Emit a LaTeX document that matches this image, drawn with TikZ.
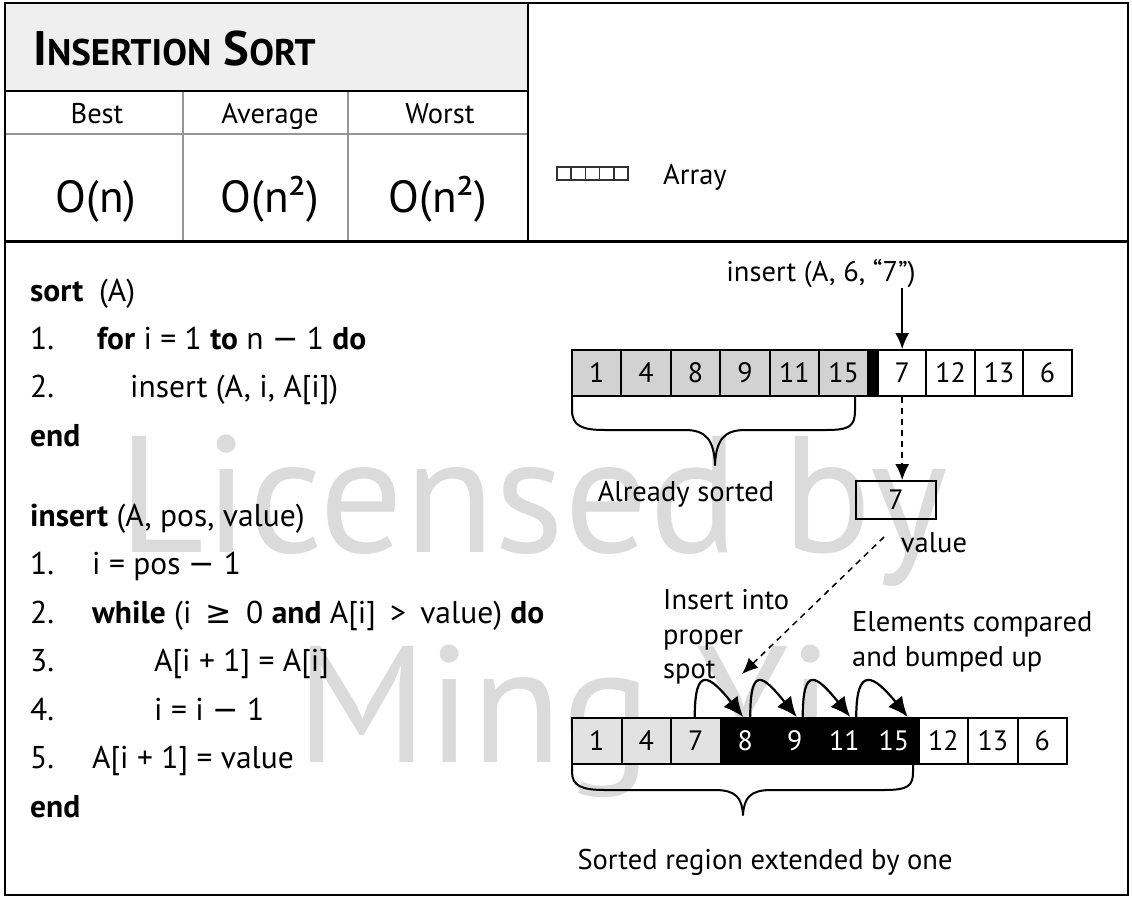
\documentclass[tikz,border=0pt]{standalone}
\usepackage{fontspec}
\setmainfont{PT Sans}
\newfontfamily\symf{DejaVu Sans}
\usetikzlibrary{arrows.meta}
\definecolor{titlegray}{RGB}{238,239,238}
\definecolor{cellgray}{RGB}{210,210,210}
\definecolor{cellltgray}{RGB}{226,226,226}
\definecolor{gridgray}{RGB}{150,150,150}
\definecolor{wmgray}{RGB}{219,219,219}
\newcommand{\mns}{{\symf −}}
\newcommand{\geqs}{{\symf ≥}}
\newcommand{\wsp}{\hspace{0.45em}}
\begin{document}
\begin{tikzpicture}[x=1pt,y=1pt,
  cell/.style={draw=black, line width=2pt, minimum width=49.5pt, minimum height=46pt, inner sep=0pt, font=\fontsize{28}{28}\selectfont},
  tcell/.style={cell, minimum width=48.4pt},
  code/.style={anchor=base west, inner sep=0pt, font=\fontsize{31.5}{31.5}\selectfont},
  lbl/.style={inner sep=0pt, font=\fontsize{28.5}{34.5}\selectfont},
  hdr/.style={anchor=base, inner sep=0pt, font=\fontsize{28.5}{28.5}\selectfont},
  big/.style={anchor=base, inner sep=0pt, font=\fontsize{45}{45}\selectfont},
  wm/.style={anchor=base west, inner sep=0pt, text=wmgray, font=\fontsize{166}{166}\selectfont},
  solidarrow/.style={line width=1.5pt, -{Latex[length=16pt,width=14pt]}},
  dasharrow/.style={line width=1.5pt, dash pattern=on 6pt off 5pt, -{Latex[length=16pt,width=14pt]}},
  arcarrow/.style={line width=2.2pt, -{Latex[length=20pt,width=18pt]}},
  bracepath/.style={line width=2pt, line join=round}
]
\useasboundingbox (0,0) rectangle (1132,-900);
% watermark
\node[wm] (wm1) at (118,-552) {Licensed by};
\node[wm] (wm2) at (296,-762) {Ming Yi};

% header
\fill[titlegray] (5,-3) rectangle (528,-91);
\draw[gridgray, line width=2pt] (5,-134) -- (528,-134);
\draw[gridgray, line width=2pt] (183,-91) -- (183,-241);
\draw[gridgray, line width=2pt] (348,-91) -- (348,-241);
\draw[line width=2pt] (5,-91) -- (528,-91);
\draw[line width=2pt] (528,-3) -- (528,-241);
\draw[line width=3pt] (5,-241) -- (1128,-241);
\draw[line width=2.5pt] (5,-3) rectangle (1128,-895);

\node[anchor=base west, inner sep=0pt, font=\bfseries\fontsize{48.5}{48.5}\selectfont] (title) at (33,-65)
  {I{\fontsize{37}{37}\selectfont NSERTION} S{\fontsize{37}{37}\selectfont ORT}};
\node[hdr] (best) at (97,-123) {Best};
\node[hdr] (avg) at (270,-123) {Average};
\node[hdr] (worst) at (440,-123) {Worst};
\node[big] (ob) at (96,-212) {O(n)};
\node[big] (oa) at (270,-212) {O(n²)};
\node[big] (ow) at (438,-212) {O(n²)};

% legend
\foreach \k in {0,...,4}
  \draw[line width=1.5pt, black!80] (557+\k*14.2,-167) rectangle ++(14.2,-13);
\node[hdr, anchor=base west] (arr) at (663,-184) {Array};

% code: sort
\node[code] (s0) at (30,-301) {\textbf{sort}\enspace(A)};
\node[code] (s1n) at (30,-349) {1.};
\node[code] (s1) at (97,-349) {\textbf{for} i = 1 \textbf{to} n \mns\ 1 \textbf{do}};
\node[code] (s2n) at (30,-397) {2.};
\node[code] (s2) at (130,-397) {insert (A, i, A[i])};
\node[code] (s3) at (30,-446) {\textbf{end}};
% code: insert
\node[code] (i0) at (30,-526) {\textbf{insert} (A, pos, value)};
\node[code] (i1n) at (30,-574) {1.};
\node[code] (i1) at (92,-574) {i = pos \mns\ 1};
\node[code] (i2n) at (30,-623) {2.};
\node[code] (i2) at (92,-623) {\textbf{while} (i\wsp\geqs\wsp 0 \textbf{and} A[i]\wsp>\wsp value) \textbf{do}};
\node[code] (i3n) at (30,-671) {3.};
\node[code] (i3) at (154,-671) {A[i + 1] = A[i]};
\node[code] (i4n) at (30,-720) {4.};
\node[code] (i4) at (154,-720) {i = i \mns\ 1};
\node[code] (i5n) at (30,-768) {5.};
\node[code] (i5) at (92,-768) {A[i + 1] = value};
\node[code] (i6) at (30,-817) {\textbf{end}};

% top array
\node[cell, fill=cellgray] (t1) at (596.7,-373) {1};
\node[cell, fill=cellgray] (t2) at (646.1,-373) {4};
\node[cell, fill=cellgray] (t3) at (695.5,-373) {8};
\node[cell, fill=cellgray] (t4) at (744.9,-373) {9};
\node[cell, fill=cellgray] (t5) at (794.3,-373) {11};
\node[cell, fill=cellgray] (t6) at (843.7,-373) {15};
\node[draw=black, fill=black, line width=2pt, minimum width=10pt, minimum height=46pt, inner sep=0pt] (sep) at (873.2,-373) {};
\node[tcell, fill=white] (t7) at (902.2,-373) {7};
\node[tcell, fill=white] (t8) at (950.6,-373) {12};
\node[tcell, fill=white] (t9) at (999,-373) {13};
\node[tcell, fill=white] (t10) at (1047.4,-373) {6};

\node[lbl, anchor=base] (ins) at (821,-281) {insert (A, 6, “7”)};
\coordinate (insarrow) at (902.2,-288);
\draw[solidarrow] (insarrow) -- (t7.north);

% brace under top array
\draw[bracepath] (572,-397) -- (572,-410) .. controls (572,-426) and (582,-430) .. (605,-430)
  -- (685,-430) .. controls (706,-430) and (714,-440) .. (715,-465)
  .. controls (716,-440) and (724,-430) .. (745,-430) -- (826,-430)
  .. controls (850,-430) and (855,-426) .. (855,-410) -- (855,-397);
\node[lbl, anchor=base] (already) at (686,-501) {Already sorted};

% value box
\node[draw=black, line width=2pt, minimum width=80pt, minimum height=38pt, inner sep=0pt, font=\fontsize{28}{28}\selectfont] (val) at (896,-500) {7};
\draw[dasharrow] (t7.south) -- (t7.south |- val.north);
\node[lbl, anchor=base] (vallbl) at (934,-552) {value};

% dashed arrow to bottom array
\coordinate (dstart) at (884,-537);
\coordinate (dend) at (742,-674);
\draw[dasharrow] (dstart) -- (dend);

\node[lbl, anchor=base west] (insinto) at (663,-609) {Insert into};
\node[lbl, anchor=base west] (proper) at (663,-644) {proper};
\node[lbl, anchor=base west] (spot) at (663,-678) {spot};
\node[lbl, anchor=base west] (elem1) at (852,-631) {Elements compared};
\node[lbl, anchor=base west] (elem2) at (852,-666) {and bumped up};

% bottom array
\node[cell, fill=cellltgray] (b1) at (596.75,-741) {1};
\node[cell, fill=cellltgray] (b2) at (646.25,-741) {4};
\node[cell, fill=cellltgray] (b3) at (695.75,-741) {7};
\node[cell, fill=black, text=white] (b4) at (745.25,-741) {8};
\node[cell, fill=black, text=white] (b5) at (794.75,-741) {9};
\node[cell, fill=black, text=white] (b6) at (844.25,-741) {11};
\node[cell, fill=black, text=white] (b7) at (893.75,-741) {15};
\node[cell, fill=white] (b8) at (943.25,-741) {12};
\node[cell, fill=white] (b9) at (992.75,-741) {13};
\node[cell, fill=white] (b10) at (1042.25,-741) {6};

% bump arrows
\draw[arcarrow] ([xshift=-1pt]b3.north) .. controls +(0,52) and +(-34,42) .. ([xshift=-2pt]b4.north);
\draw[arcarrow] ([xshift=5pt]b4.north) .. controls +(0,52) and +(-34,42) .. ([xshift=2pt]b5.north);
\draw[arcarrow] ([xshift=8pt]b5.north) .. controls +(0,52) and +(-34,42) .. ([xshift=6pt]b6.north);
\draw[arcarrow] ([xshift=12pt]b6.north) .. controls +(0,52) and +(-34,42) .. ([xshift=14pt]b7.north);

% brace under bottom array
\draw[bracepath] (572,-764) -- (572,-772) .. controls (572,-786) and (582,-790) .. (605,-790)
  -- (715,-790) .. controls (736,-790) and (742,-798) .. (743,-815)
  .. controls (744,-798) and (750,-790) .. (771,-790) -- (884,-790)
  .. controls (908,-790) and (913,-786) .. (913,-772) -- (913,-764);
\node[lbl, anchor=base] (sorted) at (765,-869) {Sorted region extended by one};
\end{tikzpicture}
\end{document}
